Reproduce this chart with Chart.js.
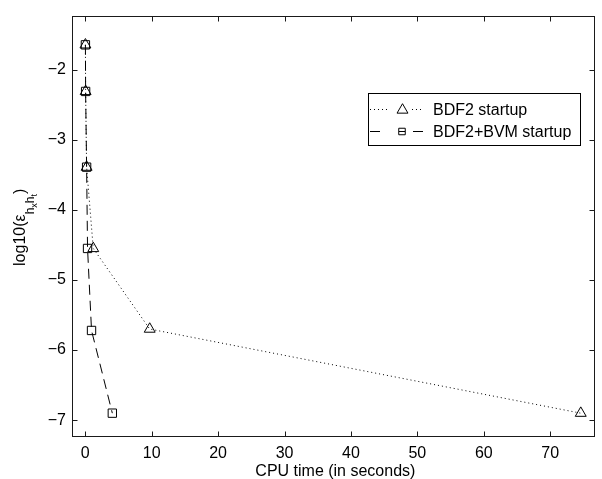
<!DOCTYPE html>
<html><head><meta charset="utf-8">
<script src="https://cdn.jsdelivr.net/npm/chart.js@4/dist/chart.umd.min.js"></script>
<style>html,body{margin:0;padding:0;background:#fff}canvas{display:block}</style>
</head><body>
<canvas id="c" width="602" height="479"></canvas>
<script>
// ---- data ----
const seriesNames = ['BDF2 startup', 'BDF2+BVM startup'];
const bdf2Time   = [0.02, 0.05, 0.2, 1.2, 9.7, 74.6];
const bdf2LogErr = [-1.645, -2.31, -3.39, -4.55, -5.70, -6.90];
const bvmTime    = [0.02, 0.05, 0.2, 0.34, 0.94, 4.07];
const bvmLogErr  = [-1.645, -2.31, -3.39, -4.55, -5.72, -6.90];
const xTicks = [0, 10, 20, 30, 40, 50, 60, 70];
const xTickLabels = ['0', '10', '20', '30', '40', '50', '60', '70'];
const yTicks = [-7, -6, -5, -4, -3, -2];
const yTickLabels = ['\u22127', '\u22126', '\u22125', '\u22124', '\u22123', '\u22122'];
const xTitle = 'CPU time (in seconds)';
const yTitleParts = [['log10(\u03b5', 0], ['h', 1], ['x', 2], ['h', 1], ['t', 2], [')', 0]];

const FONT = "'Liberation Sans', Arial, Helvetica, sans-serif";
const AXIS = '#1a1a1a';

function drawMarker(ctx, style, x, y, r) {
  ctx.beginPath();
  if (style === 'triangle') {
    ctx.moveTo(x, y - r);
    ctx.lineTo(x + r * Math.sin(Math.PI / 3), y + r * 0.5);
    ctx.lineTo(x - r * Math.sin(Math.PI / 3), y + r * 0.5);
    ctx.closePath();
  } else {
    const s = r * Math.SQRT1_2;
    ctx.rect(x - s, y - s, 2 * s, 2 * s);
  }
  ctx.stroke();
}

const framePlugin = {
  id: 'frame',
  afterDraw(chart) {
    const {ctx, chartArea: a, scales} = chart;
    const L = Math.round(a.left) + 0.5, R = Math.round(a.right) - 0.5;
    const T = Math.round(a.top) + 0.5, B = Math.round(a.bottom) - 0.5;
    ctx.save();
    ctx.strokeStyle = AXIS; ctx.lineWidth = 1; ctx.setLineDash([]);
    ctx.strokeRect(L, T, R - L, B - T);
    const tl = 5;
    ctx.beginPath();
    xTicks.forEach(v => {
      const px = Math.round(scales.x.getPixelForValue(v)) + 0.5;
      ctx.moveTo(px, B); ctx.lineTo(px, B - tl);
      ctx.moveTo(px, T); ctx.lineTo(px, T + tl);
    });
    yTicks.forEach(v => {
      const py = Math.round(scales.y.getPixelForValue(v)) + 0.5;
      ctx.moveTo(L, py); ctx.lineTo(L + tl, py);
      ctx.moveTo(R, py); ctx.lineTo(R - tl, py);
    });
    ctx.stroke();
    ctx.restore();
  }
};

const titlesPlugin = {
  id: 'titles',
  afterDraw(chart) {
    const ctx = chart.ctx;
    const a = chart.chartArea;
    // x title
    ctx.save();
    ctx.fillStyle = '#000';
    ctx.font = '16px ' + FONT;
    ctx.textAlign = 'center';
    ctx.textBaseline = 'alphabetic';
    ctx.fillText(xTitle, (a.left + a.right) / 2 + 2, 475.5);
    ctx.restore();
    // y title with nested subscripts
    const sizes = [16, 12, 9];
    const drops = [0, 9, 12];
    ctx.save();
    ctx.fillStyle = '#000';
    ctx.textBaseline = 'alphabetic';
    ctx.textAlign = 'left';
    let total = 0;
    yTitleParts.forEach(([t, lvl]) => { ctx.font = sizes[lvl] + 'px ' + FONT; total += ctx.measureText(t).width; });
    const cy = (a.top + a.bottom) / 2 + 1;
    ctx.translate(24.5, cy);
    ctx.rotate(-Math.PI / 2);
    let u = -total / 2;
    yTitleParts.forEach(([t, lvl]) => {
      ctx.font = sizes[lvl] + 'px ' + FONT;
      ctx.fillText(t, u, drops[lvl]);
      u += ctx.measureText(t).width;
    });
    ctx.restore();
  }
};

const legendPlugin = {
  id: 'customLegend',
  afterDraw(chart) {
    const ctx = chart.ctx;
    const bx = 368.5, by = 93.5, bw = 212, bh = 52;
    ctx.save();
    ctx.fillStyle = '#fff';
    ctx.fillRect(bx, by, bw, bh);
    ctx.strokeStyle = '#000'; ctx.lineWidth = 1; ctx.setLineDash([]);
    ctx.strokeRect(bx, by, bw, bh);
    const rows = [109.5, 131.5];
    chart.data.datasets.forEach((ds, i) => {
      const y = rows[i];
      ctx.strokeStyle = '#000'; ctx.lineWidth = 1;
      if (i === 0) {
        ctx.setLineDash([1, 3]);
        ctx.beginPath(); ctx.moveTo(370, y); ctx.lineTo(387, y); ctx.stroke();
        ctx.beginPath(); ctx.moveTo(412, y); ctx.lineTo(424, y); ctx.stroke();
        ctx.setLineDash([]);
        drawMarker(ctx, 'triangle', 402.5, y + 0.5, 6.3);
      } else {
        ctx.setLineDash([]);
        ctx.beginPath(); ctx.moveTo(370, y); ctx.lineTo(380, y); ctx.stroke();
        ctx.beginPath(); ctx.moveTo(413, y); ctx.lineTo(423, y); ctx.stroke();
        ctx.beginPath(); ctx.moveTo(399, y); ctx.lineTo(405, y); ctx.stroke();
        drawMarker(ctx, 'rect', 402, y, 4.6);
      }
      ctx.fillStyle = '#000';
      ctx.font = '16px ' + FONT;
      ctx.textBaseline = 'middle'; ctx.textAlign = 'left';
      ctx.fillText(ds.label, 433, y + 1);
    });
    ctx.restore();
  }
};

const ctx = document.getElementById('c').getContext('2d');
new Chart(ctx, {
  type: 'scatter',
  data: {
    datasets: [
      {
        label: seriesNames[0],
        data: bdf2Time.map((x, i) => ({x, y: bdf2LogErr[i]})),
        showLine: true, borderColor: '#000', borderWidth: 1, borderDash: [1, 3],
        pointStyle: 'triangle', pointRadius: 6.3, pointHoverRadius: 6.3,
        pointBorderColor: '#000', pointBackgroundColor: 'rgba(0,0,0,0)', pointBorderWidth: 1,
        tension: 0, fill: false
      },
      {
        label: seriesNames[1],
        data: bvmTime.map((x, i) => ({x, y: bvmLogErr[i]})),
        showLine: true, borderColor: '#000', borderWidth: 1, borderDash: [10, 6],
        pointStyle: 'rect', pointRadius: 5.9, pointHoverRadius: 5.9,
        pointBorderColor: '#000', pointBackgroundColor: 'rgba(0,0,0,0)', pointBorderWidth: 1,
        tension: 0, fill: false
      }
    ]
  },
  options: {
    responsive: false, devicePixelRatio: 1, animation: false,
    layout: {padding: {left: 0, top: 14, right: 1, bottom: 0}},
    plugins: {legend: {display: false}, tooltip: {enabled: false}},
    events: [],
    scales: {
      x: {
        type: 'linear', min: -2, max: 76.7,
        afterBuildTicks: s => { s.ticks = xTicks.map(v => ({value: v})); },
        afterFit: s => { s.height = 42; },
        grid: {display: false, drawTicks: false}, border: {display: false},
        ticks: {
          color: '#000', font: {family: FONT, size: 16}, padding: 7,
          maxRotation: 0, autoSkip: false,
          callback: v => xTickLabels[xTicks.indexOf(v)]
        }
      },
      y: {
        type: 'linear', min: -7.24, max: -1.228,
        afterBuildTicks: s => { s.ticks = yTicks.map(v => ({value: v})); },
        afterFit: s => { s.width = 72; },
        grid: {display: false, drawTicks: false}, border: {display: false},
        ticks: {
          color: '#000', font: {family: FONT, size: 16}, padding: 6, autoSkip: false,
          callback: v => yTickLabels[yTicks.indexOf(v)]
        }
      }
    }
  },
  plugins: [framePlugin, titlesPlugin, legendPlugin]
});
</script>
</body></html>
